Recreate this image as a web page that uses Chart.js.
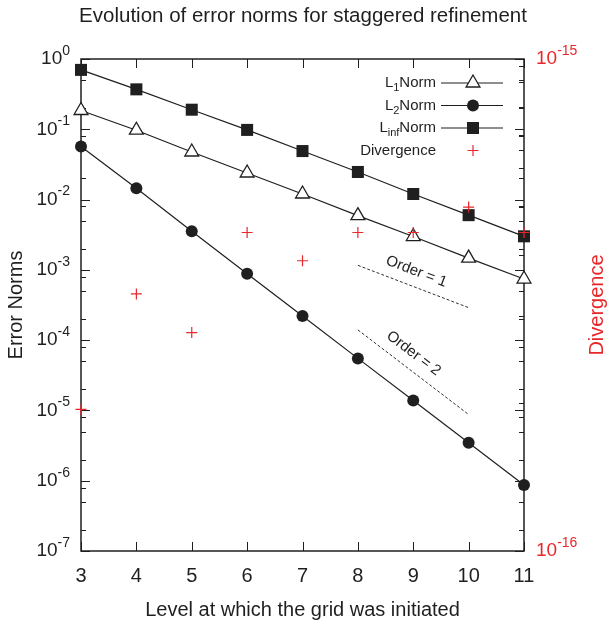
<!DOCTYPE html>
<html>
<head>
<meta charset="utf-8">
<script src="https://cdn.jsdelivr.net/npm/chart.js@4/dist/chart.umd.min.js"></script>
<style>
  html, body { margin: 0; padding: 0; background: #fff; }
  canvas { display: block; }
</style>
</head>
<body>
<canvas id="chart" width="609" height="626"></canvas>
<script>
// Refinement levels and the norms measured at each one
const levels = [3, 4, 5, 6, 7, 8, 9, 10, 11];
const l1Norm = [0.185, 0.097, 0.0475, 0.0239, 0.012, 0.0059, 0.00298, 0.00147, 0.00074];
const l2Norm = [0.057, 0.0145, 0.00355, 0.00088, 0.00022, 5.5e-5, 1.38e-5, 3.48e-6, 8.7e-7];
const linfNorm = [0.70, 0.37, 0.19, 0.098, 0.049, 0.0247, 0.012, 0.006, 0.003];
const divergence = [1.94e-16, 3.33e-16, 2.78e-16, 4.44e-16, 3.89e-16, 4.44e-16, 4.44e-16, 5.0e-16, 4.44e-16];

// Reference slopes
const orderLevels = [8, 10];
const order1 = [1.16e-3, 2.9e-4];
const order2 = [1.4e-4, 8.75e-6];

// Axis ticks
const xTicks = [3, 4, 5, 6, 7, 8, 9, 10, 11];
const yExponents = [0, -1, -2, -3, -4, -5, -6, -7];
const yMinorMantissas = [2, 5, 8];
const y2Exponents = [-15, -16];
const y2MinorMantissas = [2, 3, 4, 5, 6, 7, 8, 9];

const INK = '#1f1f1f';
const RED = '#e8272b';
const FONT = '"Liberation Sans", Arial, Helvetica, sans-serif';

const pairs = (xs, ys) => xs.map((x, i) => ({ x: x, y: ys[i] }));

function powLabel(ctx, exp, x, y, align, color) {
    const e = String(exp);
    ctx.fillStyle = color;
    ctx.textBaseline = 'middle';
    ctx.textAlign = 'left';
    ctx.font = '19px ' + FONT;
    const wb = ctx.measureText('10').width;
    ctx.font = '14px ' + FONT;
    const we = ctx.measureText(e).width;
    const left = align === 'right' ? x - wb - we : x;
    ctx.font = '19px ' + FONT;
    ctx.fillText('10', left, y);
    ctx.font = '14px ' + FONT;
    ctx.fillText(e, left + wb, y - 8);
}

function marker(ctx, style, x, y) {
    ctx.save();
    ctx.lineWidth = 1.3;
    ctx.strokeStyle = INK;
    ctx.fillStyle = INK;
    ctx.beginPath();
    if (style === 'triangle') {
        const r = 8;
        ctx.moveTo(x, y - r);
        ctx.lineTo(x + 0.866 * r, y + r / 2);
        ctx.lineTo(x - 0.866 * r, y + r / 2);
        ctx.closePath();
        ctx.fillStyle = '#fff';
        ctx.fill();
        ctx.stroke();
    } else if (style === 'circle') {
        ctx.arc(x, y, 6, 0, Math.PI * 2);
        ctx.fill();
    } else if (style === 'rect') {
        ctx.rect(x - 6, y - 6, 12, 12);
        ctx.fill();
    } else {
        ctx.strokeStyle = RED;
        ctx.lineWidth = 1.2;
        ctx.moveTo(x - 5.5, y);
        ctx.lineTo(x + 5.5, y);
        ctx.moveTo(x, y - 5.5);
        ctx.lineTo(x, y + 5.5);
        ctx.stroke();
    }
    ctx.restore();
}

// Text with a subscript in the middle, right aligned at x
function subLabel(ctx, main, sub, rest, x, y) {
    ctx.fillStyle = INK;
    ctx.textBaseline = 'middle';
    ctx.textAlign = 'left';
    ctx.font = '15px ' + FONT;
    const w1 = ctx.measureText(main).width;
    const w3 = ctx.measureText(rest).width;
    ctx.font = '11px ' + FONT;
    const w2 = ctx.measureText(sub).width;
    let cx = x - w1 - w2 - w3;
    ctx.font = '15px ' + FONT;
    ctx.fillText(main, cx, y);
    cx += w1;
    ctx.font = '11px ' + FONT;
    ctx.fillText(sub, cx, y + 5);
    cx += w2;
    ctx.font = '15px ' + FONT;
    ctx.fillText(rest, cx, y);
}

const legendItems = [
    { main: 'L', sub: '1', rest: 'Norm', style: 'triangle', line: true },
    { main: 'L', sub: '2', rest: 'Norm', style: 'circle', line: true },
    { main: 'L', sub: 'inf', rest: 'Norm', style: 'rect', line: true },
    { main: 'Divergence', sub: '', rest: '', style: 'cross', line: false }
];

const framePlugin = {
    id: 'gnuplotFrame',
    beforeDatasetsDraw(chart) {
        const { ctx, chartArea: a, scales } = chart;
        ctx.save();
        ctx.strokeStyle = INK;

        // inward tick marks, mirrored on the opposite border
        ctx.lineWidth = 1;
        ctx.beginPath();
        const tick = (x1, y1, x2, y2) => { ctx.moveTo(x1, y1); ctx.lineTo(x2, y2); };
        xTicks.forEach(v => {
            const px = Math.round(scales.x.getPixelForValue(v)) + 0.5;
            tick(px, a.bottom, px, a.bottom - 9);
            tick(px, a.top, px, a.top + 9);
        });
        yExponents.forEach(k => {
            const py = Math.round(scales.y.getPixelForValue(Math.pow(10, k))) + 0.5;
            tick(a.left, py, a.left + 9, py);
            tick(a.right, py, a.right - 9, py);
        });
        yExponents.slice(1).forEach(k => {
            yMinorMantissas.forEach(m => {
                const py = Math.round(scales.y.getPixelForValue(m * Math.pow(10, k))) + 0.5;
                tick(a.left, py, a.left + 5, py);
                tick(a.right, py, a.right - 5, py);
            });
        });
        y2MinorMantissas.forEach(m => {
            const py = Math.round(scales.y2.getPixelForValue(m * 1e-16)) + 0.5;
            tick(a.right, py, a.right - 5, py);
        });
        ctx.stroke();

        ctx.lineWidth = 1.5;
        ctx.strokeRect(a.left, a.top, a.right - a.left, a.bottom - a.top);
        ctx.restore();
    },
    afterDraw(chart) {
        const { ctx, chartArea: a, scales } = chart;
        ctx.save();

        // tick labels
        ctx.fillStyle = INK;
        ctx.textAlign = 'center';
        ctx.textBaseline = 'middle';
        ctx.font = '20px ' + FONT;
        xTicks.forEach(v => ctx.fillText(String(v), scales.x.getPixelForValue(v), a.bottom + 25));
        yExponents.forEach(k => powLabel(ctx, k, a.left - 11, scales.y.getPixelForValue(Math.pow(10, k)), 'right', INK));
        y2Exponents.forEach(k => powLabel(ctx, k, a.right + 12, scales.y2.getPixelForValue(Math.pow(10, k)), 'left', RED));

        // titles
        ctx.fillStyle = INK;
        ctx.textAlign = 'center';
        ctx.font = '20.5px ' + FONT;
        ctx.fillText('Evolution of error norms for staggered refinement', 303, 16);
        ctx.font = '20px ' + FONT;
        ctx.fillText('Level at which the grid was initiated', (a.left + a.right) / 2, 610);
        ctx.save();
        ctx.translate(16, (a.top + a.bottom) / 2);
        ctx.rotate(-Math.PI / 2);
        ctx.fillText('Error Norms', 0, 0);
        ctx.restore();
        ctx.save();
        ctx.fillStyle = RED;
        ctx.translate(597, (a.top + a.bottom) / 2);
        ctx.rotate(-Math.PI / 2);
        ctx.fillText('Divergence', 0, 0);
        ctx.restore();

        // slope annotations along the reference lines
        [[order1, 'Order = 1', 0.48], [order2, 'Order = 2', 0.42]].forEach(([vals, text, t]) => {
            const x1 = scales.x.getPixelForValue(orderLevels[0]);
            const y1 = scales.y.getPixelForValue(vals[0]);
            const x2 = scales.x.getPixelForValue(orderLevels[1]);
            const y2 = scales.y.getPixelForValue(vals[1]);
            const ang = Math.atan2(y2 - y1, x2 - x1);
            const cx = x1 + (x2 - x1) * t + Math.sin(ang) * 15;
            const cy = y1 + (y2 - y1) * t - Math.cos(ang) * 15;
            ctx.save();
            ctx.translate(cx, cy);
            ctx.rotate(ang);
            ctx.fillStyle = INK;
            ctx.font = '15px ' + FONT;
            ctx.textAlign = 'center';
            ctx.textBaseline = 'middle';
            ctx.fillText(text, 0, 0);
            ctx.restore();
        });

        // key
        legendItems.forEach((item, i) => {
            const y = 83 + i * 22.5;
            if (item.sub) {
                subLabel(ctx, item.main, item.sub, item.rest, 436, y);
            } else {
                ctx.fillStyle = INK;
                ctx.textAlign = 'right';
                ctx.textBaseline = 'middle';
                ctx.font = '15px ' + FONT;
                ctx.fillText(item.main, 436, y);
            }
            if (item.line) {
                ctx.strokeStyle = INK;
                ctx.lineWidth = 1.2;
                ctx.beginPath();
                ctx.moveTo(441, y);
                ctx.lineTo(503, y);
                ctx.stroke();
            }
            marker(ctx, item.style, 473, y);
        });

        ctx.restore();
    }
};

new Chart(document.getElementById('chart'), {
    type: 'line',
    data: {
        datasets: [
            {
                label: 'Divergence',
                data: pairs(levels, divergence),
                yAxisID: 'y2',
                showLine: false,
                pointStyle: 'cross',
                pointRadius: 5.5,
                pointBorderColor: RED,
                pointBorderWidth: 1.2,
                borderColor: RED,
                clip: false,
                order: 0
            },
            {
                label: 'LinfNorm',
                data: pairs(levels, linfNorm),
                yAxisID: 'y',
                borderColor: INK,
                borderWidth: 1.2,
                pointStyle: 'rect',
                pointRadius: 8.5,
                pointBackgroundColor: INK,
                pointBorderColor: INK,
                pointBorderWidth: 0,
                clip: false,
                order: 1
            },
            {
                label: 'L2Norm',
                data: pairs(levels, l2Norm),
                yAxisID: 'y',
                borderColor: INK,
                borderWidth: 1.2,
                pointStyle: 'circle',
                pointRadius: 6,
                pointBackgroundColor: INK,
                pointBorderColor: INK,
                pointBorderWidth: 0,
                clip: false,
                order: 2
            },
            {
                label: 'L1Norm',
                data: pairs(levels, l1Norm),
                yAxisID: 'y',
                borderColor: INK,
                borderWidth: 1.2,
                pointStyle: 'triangle',
                pointRadius: 8,
                pointBackgroundColor: '#fff',
                pointBorderColor: INK,
                pointBorderWidth: 1.3,
                clip: false,
                order: 3
            },
            {
                label: 'Order 1',
                data: pairs(orderLevels, order1),
                yAxisID: 'y',
                borderColor: '#333',
                borderWidth: 1,
                borderDash: [3, 2],
                pointRadius: 0,
                order: 4
            },
            {
                label: 'Order 2',
                data: pairs(orderLevels, order2),
                yAxisID: 'y',
                borderColor: '#333',
                borderWidth: 1,
                borderDash: [3, 2],
                pointRadius: 0,
                order: 4
            }
        ]
    },
    options: {
        responsive: false,
        animation: false,
        layout: {
            padding: { left: 81, top: 59, right: 85, bottom: 75 }
        },
        plugins: {
            legend: { display: false },
            tooltip: { enabled: false }
        },
        scales: {
            x: { type: 'linear', min: 3, max: 11, display: false },
            y: { type: 'logarithmic', min: 1e-7, max: 1, display: false },
            y2: { type: 'logarithmic', min: 1e-16, max: 1e-15, display: false, position: 'right' }
        }
    },
    plugins: [framePlugin]
});
</script>
</body>
</html>
